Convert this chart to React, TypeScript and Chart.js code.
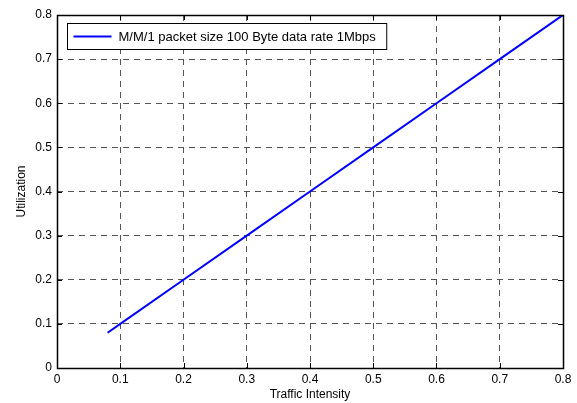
import React, { useEffect, useRef } from "react";
import { Chart, registerables } from "chart.js";

Chart.register(...registerables);

const seriesLabel = "M/M/1 packet size 100 Byte data rate 1Mbps";
const trafficIntensity = [0.08, 0.1, 0.2, 0.3, 0.4, 0.5, 0.6, 0.7, 0.8];
const utilization = [0.08, 0.1, 0.2, 0.3, 0.4, 0.5, 0.6, 0.7, 0.8];
const xTicks = [0, 0.1, 0.2, 0.3, 0.4, 0.5, 0.6, 0.7, 0.8];
const yTicks = [0, 0.1, 0.2, 0.3, 0.4, 0.5, 0.6, 0.7, 0.8];

const FONT = "'Liberation Sans', Arial, Helvetica, sans-serif";

const framePlugin = {
  id: "frame",
  afterDraw(chart: any) {
    const { ctx, chartArea, scales } = chart;
    const { left, right, top, bottom } = chartArea;
    ctx.save();
    ctx.strokeStyle = "#000";
    ctx.lineWidth = 1;
    ctx.setLineDash([]);
    const tl = 5;
    ctx.beginPath();
    xTicks.forEach((v) => {
      const x = Math.round(scales.x.getPixelForValue(v)) + 0.5;
      ctx.moveTo(x, bottom);
      ctx.lineTo(x, bottom - tl);
      ctx.moveTo(x, top);
      ctx.lineTo(x, top + tl);
    });
    yTicks.forEach((v) => {
      const y = Math.round(scales.y.getPixelForValue(v)) + 0.5;
      ctx.moveTo(left, y);
      ctx.lineTo(left + tl, y);
      ctx.moveTo(right, y);
      ctx.lineTo(right - tl, y);
    });
    ctx.stroke();
    ctx.lineWidth = 1.5;
    ctx.strokeRect(Math.round(left) + 0.5, Math.round(top) + 0.5, Math.round(right - left), Math.round(bottom - top));

    // legend
    const lx = Math.round(left) + 10.5;
    const ly = Math.round(top) + 8.5;
    ctx.font = `13px ${FONT}`;
    const tw = ctx.measureText(seriesLabel).width;
    const w = 50 + tw + 12;
    const h = 26;
    ctx.fillStyle = "#fff";
    ctx.fillRect(lx, ly, w, h);
    ctx.lineWidth = 1;
    ctx.strokeStyle = "#000";
    ctx.strokeRect(lx, ly, w, h);
    ctx.strokeStyle = "#0000ff";
    ctx.lineWidth = 2;
    ctx.beginPath();
    ctx.moveTo(lx + 6, ly + h / 2);
    ctx.lineTo(lx + 44, ly + h / 2);
    ctx.stroke();
    ctx.fillStyle = "#000";
    ctx.textBaseline = "middle";
    ctx.textAlign = "left";
    ctx.fillText(seriesLabel, lx + 51, ly + h / 2 + 0.5);
    ctx.restore();
  },
};

export default function App() {
  const ref = useRef<HTMLCanvasElement>(null);
  useEffect(() => {
    document.body.style.margin = "0";
    const chart = new Chart(ref.current!, {
      type: "scatter",
      data: {
        datasets: [
          {
            label: seriesLabel,
            data: trafficIntensity.map((x, i) => ({ x, y: utilization[i] })),
            showLine: true,
            borderColor: "#0000ff",
            backgroundColor: "#0000ff",
            borderWidth: 2,
            pointRadius: 0,
            tension: 0,
          },
        ],
      },
      options: {
        animation: false,
        responsive: false,
        maintainAspectRatio: false,
        layout: { padding: { top: 15, right: 14, left: 0, bottom: 0 } },
        plugins: { legend: { display: false }, tooltip: { enabled: false } },
        scales: {
          x: {
            type: "linear",
            min: 0,
            max: 0.8,
            afterFit: (s: any) => {
              s.height = 35;
            },
            afterBuildTicks: (s: any) => {
              s.ticks = xTicks.map((v) => ({ value: v }));
            },
            ticks: {
              padding: 4,
              color: "#000",
              font: { size: 12, family: FONT },
              callback: (v: any) => String(v),
            },
            grid: {
              drawTicks: false,
              color: "#555",
              lineWidth: 1,
            },
            border: { display: false, dash: [6, 5] },
            title: {
              display: true,
              text: "Traffic Intensity",
              color: "#000",
              font: { size: 12, family: FONT },
              padding: { top: 0, bottom: 1 },
            },
          },
          y: {
            type: "linear",
            min: 0,
            max: 0.8,
            afterFit: (s: any) => {
              s.width = 57;
            },
            afterBuildTicks: (s: any) => {
              s.ticks = yTicks.map((v) => ({ value: v }));
            },
            ticks: {
              padding: 5,
              color: "#000",
              font: { size: 12, family: FONT },
              callback: (v: any) => String(v),
            },
            grid: {
              drawTicks: false,
              color: "#555",
              lineWidth: 1,
            },
            border: { display: false, dash: [6, 5] },
            title: {
              display: true,
              text: "Utilization",
              color: "#000",
              font: { size: 12, family: FONT },
              padding: { top: 14, bottom: 0 },
            },
          },
        },
      },
      plugins: [framePlugin],
    });
    return () => chart.destroy();
  }, []);
  return (
    <div style={{ position: "absolute", left: 0, top: 0, width: 577, height: 403 }}>
      <canvas ref={ref} width={577} height={403} style={{ width: 577, height: 403, display: "block" }} />
    </div>
  );
}
